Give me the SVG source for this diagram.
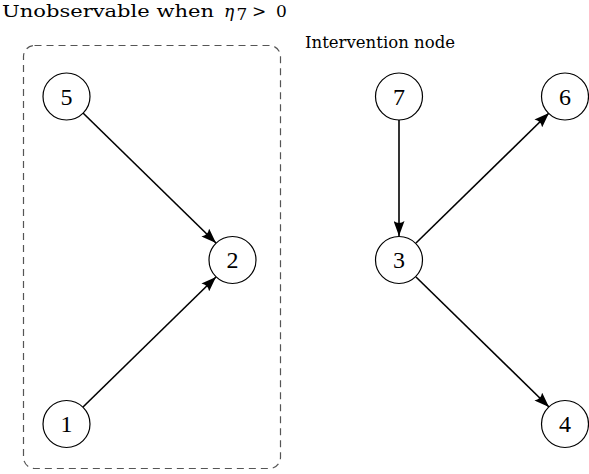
<svg xmlns="http://www.w3.org/2000/svg" width="589" height="474" viewBox="0 0 589 474">
<style>
.node circle{fill:#fff;stroke:#000;stroke-width:1.2}
.node text{font-family:"Liberation Serif","DejaVu Serif",serif;font-size:24px;text-anchor:middle;fill:#000}
.lbl{font-family:"DejaVu Serif","Liberation Serif",serif;font-size:17px;fill:#000}
.edge{stroke:#000;stroke-width:1.6;fill:none;marker-end:url(#arr)}
</style>
<defs>
<marker id="arr" viewBox="0 0 15 11" refX="15" refY="5.5" markerWidth="15" markerHeight="11" markerUnits="userSpaceOnUse" orient="auto">
<path d="M0,0 Q4,5.5 0,11 L15,5.5 Z" fill="#000"/>
</marker>
</defs>
<rect x="23.5" y="45.5" width="257" height="423" rx="11" fill="none" stroke="#555" stroke-width="1.2" stroke-dasharray="7,5"/>
<text class="lbl" x="2" y="16.5" textLength="212" lengthAdjust="spacingAndGlyphs">Unobservable when</text>
<text class="lbl" x="224" y="16.5" font-style="italic">η</text>
<text class="lbl" x="236.5" y="20" font-size="12">7</text>
<text class="lbl" x="252" y="16.5" font-size="19">&gt;</text>
<text class="lbl" x="276" y="16.5">0</text>
<text class="lbl" x="305" y="48" textLength="150" lengthAdjust="spacingAndGlyphs">Intervention node</text>
<g id="edges">
<line class="edge" x1="83" y1="113" x2="216" y2="243"/>
<line class="edge" x1="83" y1="407" x2="216" y2="277"/>
<line class="edge" x1="399" y1="120" x2="399" y2="236"/>
<line class="edge" x1="416" y1="243" x2="549" y2="113"/>
<line class="edge" x1="416" y1="277" x2="549" y2="407"/>
</g>
<g id="n5" class="node"><circle cx="66.5" cy="96.5" r="23.5"/><text x="66.5" y="104.5">5</text></g>
<g id="n2" class="node"><circle cx="232.5" cy="260" r="23.5"/><text x="232.5" y="268">2</text></g>
<g id="n1" class="node"><circle cx="66.5" cy="424" r="23.5"/><text x="66.5" y="432">1</text></g>
<g id="n7" class="node"><circle cx="399" cy="96.5" r="23.5"/><text x="399" y="104.5">7</text></g>
<g id="n3" class="node"><circle cx="399" cy="260" r="23.5"/><text x="399" y="268">3</text></g>
<g id="n6" class="node"><circle cx="565" cy="96.5" r="23.5"/><text x="565" y="104.5">6</text></g>
<g id="n4" class="node"><circle cx="565" cy="424" r="23.5"/><text x="565" y="432">4</text></g>
</svg>
